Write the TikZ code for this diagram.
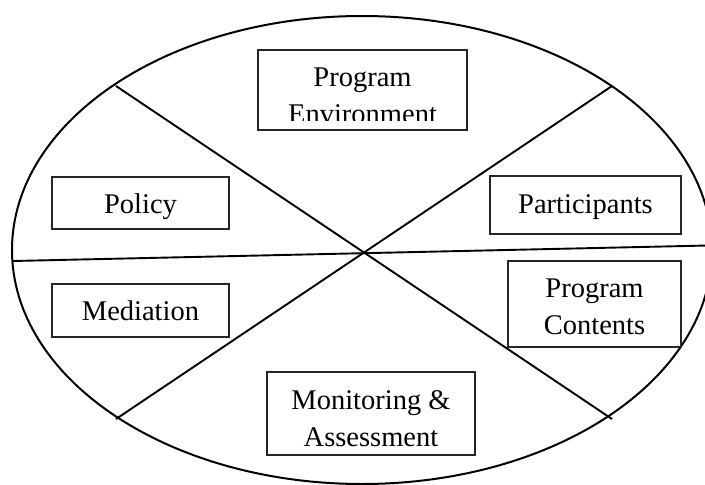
\documentclass[tikz,border=0pt]{standalone}
\usepackage{fontspec}
\setmainfont{Liberation Serif}
\begin{document}
\begin{tikzpicture}[x=1pt,y=-1pt,
  outline/.style={line width=2pt, black},
  divider/.style={line width=1.9pt, black},
  box/.style={draw=black!85, line width=1.3pt, rectangle, inner sep=0pt},
  lbl/.style={font=\fontsize{28.5}{37}\selectfont, align=center, anchor=base, inner sep=0pt}
]
\useasboundingbox (0,0) rectangle (705,485);
% ellipse
\node[draw=none, inner sep=0pt, minimum size=0pt] (ctr) at (362,250) {};
\draw[outline] (ctr.center) ellipse [x radius=350pt, y radius=234pt];
% divider end points
\coordinate (ul) at (116,86);
\coordinate (ur) at (612,86);
\coordinate (ll) at (116,419);
\coordinate (lr) at (612,419);
\coordinate (hl) at (13,261);
\coordinate (hr) at (708,245.5);
\draw[divider] (ul) -- (lr);
\draw[divider] (ur) -- (ll);
\draw[divider] (hl) -- (hr);
% boxes
\node[box, minimum width=209pt, minimum height=80pt] (env) at (362.5,90) {};
\begin{scope}
  \clip (258,50) rectangle (467,120);
  \node[lbl] (envt) at (362.5,123) {Program\\Environment};
\end{scope}
\node[box, minimum width=177pt, minimum height=52pt] (pol) at (140.5,203) {};
\node[lbl] (polt) at (140.5,213) {Policy};
\node[box, minimum width=177pt, minimum height=53pt] (med) at (140.5,310.5) {};
\node[lbl] (medt) at (140.5,320) {Mediation};
\node[box, minimum width=191pt, minimum height=58pt] (par) at (585.5,205) {};
\node[lbl] (part) at (585.5,213) {Participants};
\node[box, minimum width=173pt, minimum height=86pt] (con) at (594.5,304) {};
\node[lbl] (cont) at (594.5,334) {Program\\Contents};
\node[box, minimum width=208pt, minimum height=83pt] (mon) at (371,413.5) {};
\node[lbl] (mont) at (371,446) {Monitoring \&\\Assessment};
\end{tikzpicture}
\end{document}
